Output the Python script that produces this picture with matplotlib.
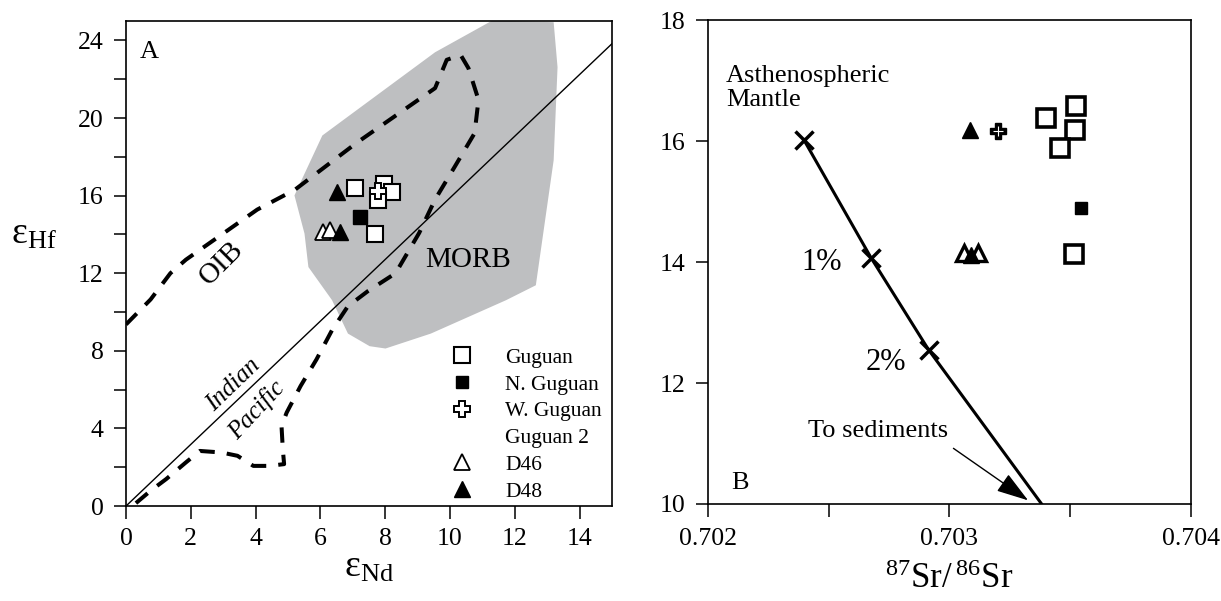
import matplotlib
matplotlib.use('Agg')
import matplotlib.pyplot as plt
from matplotlib.lines import Line2D

plt.rcParams['font.family'] = ['Liberation Serif', 'DejaVu Serif']
plt.rcParams['mathtext.fontset'] = 'custom'
plt.rcParams['mathtext.rm'] = 'Liberation Serif'
plt.rcParams['mathtext.it'] = 'Liberation Serif:italic'
plt.rcParams['mathtext.bf'] = 'Liberation Serif:bold'

# ---------------- Panel A data (eNd vs eHf) ----------------
guguan_nd = [7.07, 7.97, 8.20, 7.77, 7.69]
guguan_hf = [16.41, 16.62, 16.18, 15.76, 14.04]
nguguan_nd = [7.22]
nguguan_hf = [14.90]
wguguan_nd = [7.79]
wguguan_hf = [16.24]
d46_nd = [6.09, 6.30]
d46_hf = [14.12, 14.21]
d48_nd = [6.52, 6.60]
d48_hf = [16.18, 14.12]

morb_nd = [5.20, 5.51, 6.06, 9.54, 11.31, 13.20, 13.32, 13.20, 12.65, 11.73,
           9.41, 8.01, 7.52, 6.85, 6.36, 5.63, 5.51]
morb_hf = [16.01, 17.13, 19.10, 23.39, 25.03, 24.94, 22.62, 17.82, 11.38, 10.61,
           8.89, 8.12, 8.24, 8.89, 10.61, 12.32, 14.04]

oib_nd = [0.0, 0.76, 1.37, 1.85, 4.05, 5.21, 7.10, 9.54, 9.90, 10.33, 10.57,
          10.88, 10.76, 10.15, 9.54, 9.05, 8.32, 7.46, 6.85, 6.37, 5.88, 5.39,
          4.96, 4.80, 4.84, 4.88, 4.41, 3.93, 3.44, 2.95, 2.28, 1.85, 1.24,
          0.76, 0.27]
oib_hf = [9.36, 10.65, 12.00, 12.70, 15.28, 16.30, 18.70, 21.54, 23.00, 23.25,
          22.57, 20.94, 19.22, 17.50, 15.80, 14.08, 12.00, 11.07, 10.30, 9.10,
          7.56, 6.19, 4.82, 4.13, 2.93, 2.16, 2.07, 2.07, 2.59, 2.76, 2.84,
          2.25, 1.39, 0.79, 0.10]

divide_nd = [0.0, 15.0]
divide_hf = [0.0, 23.83]

# ---------------- Panel B data (87Sr/86Sr vs eHf) ----------------
guguan_sr = [0.703402, 0.703525, 0.703520, 0.703456, 0.703517]
guguan_hf_b = [16.38, 16.58, 16.18, 15.89, 14.14]
nguguan_sr = [0.703545]
nguguan_hf_b = [14.89]
wguguan_sr = [0.703203]
wguguan_hf_b = [16.16]
d46_sr = [0.703061, 0.703120]
d46_hf_b = [14.15, 14.15]
d48_sr = [0.703085, 0.703088]
d48_hf_b = [16.18, 14.12]

mix_sr = [0.702398, 0.702676, 0.702914, 0.703382]
mix_hf = [16.02, 14.07, 12.55, 10.00]
mix_labels = ['', '1%', '2%']

fig = plt.figure(figsize=(12.21, 6.01), dpi=100)
axA = fig.add_axes([0.1032, 0.158, 0.398, 0.807])
axB = fig.add_axes([0.5796, 0.1614, 0.3958, 0.8053])

TICK_FS = 18.5
TXT_FS = 19
for ax in (axA, axB):
    for s in ax.spines.values():
        s.set_linewidth(1.2)
    ax.tick_params(which='both', direction='out', length=9, width=1.1,
                   labelsize=TICK_FS)

# ---------------- Panel A ----------------
gray = '#bebfc1'
axA.fill(morb_nd, morb_hf, color=gray, lw=0, zorder=1)
axA.plot(oib_nd, oib_hf, color='black', lw=2.9, dashes=(3.8, 3.0),
         solid_capstyle='butt', dash_capstyle='butt', zorder=2)
axA.plot(divide_nd, divide_hf, color='black', lw=1.0, zorder=2)

axA.plot(d46_nd, d46_hf, ls='none', marker='^', ms=11, mfc='white', mec='black',
         mew=1.3, zorder=4)
axA.plot(d48_nd, d48_hf, ls='none', marker='^', ms=11, mfc='black', mec='black',
         mew=1.0, zorder=5)
axA.plot(guguan_nd, guguan_hf, ls='none', marker='s', ms=12, mfc='white',
         mec='black', mew=1.5, zorder=4)
axA.plot(nguguan_nd, nguguan_hf, ls='none', marker='s', ms=10, mfc='black',
         mec='black', mew=1.0, zorder=4)
axA.plot(wguguan_nd, wguguan_hf, ls='none', marker='P', ms=12, mfc='white',
         mec='black', mew=1.4, zorder=6)

axA.set_xlim(0, 15)
axA.set_ylim(0, 25)
axA.set_xticks(range(0, 15, 2))
axA.set_yticks([0, 4, 8, 12, 16, 20, 24])
axA.set_yticks([2, 6, 10, 14, 18, 22], minor=True)
axA.tick_params(axis='x', pad=7)
axA.tick_params(axis='y', which='both', pad=7)

axA.set_xlabel(r'$\mathrm{ε}_{\mathrm{Nd}}$', fontsize=27, labelpad=0)
axA.set_ylabel(r'$\mathrm{ε}_{\mathrm{Hf}}$', fontsize=27, rotation=0,
               va='center', ha='center')
axA.yaxis.set_label_coords(-0.19, 0.56)

axA.text(0.41, 23.4, 'A', fontsize=TXT_FS, va='center', ha='left')
axA.text(2.95, 12.5, 'OIB', fontsize=21, rotation=45, ha='center', va='center')
axA.text(10.57, 12.7, 'MORB', fontsize=21, ha='center', va='center')
axA.text(3.31, 6.23, 'Indian', fontsize=18, style='italic', rotation=44,
         ha='center', va='center')
axA.text(4.04, 4.94, 'Pacific', fontsize=18, style='italic', rotation=47,
         ha='center', va='center')

handles = [
    Line2D([], [], ls='none', marker='s', ms=12, mfc='white', mec='black', mew=1.5),
    Line2D([], [], ls='none', marker='s', ms=9, mfc='black', mec='black', mew=1.0),
    Line2D([], [], ls='none', marker='P', ms=12, mfc='white', mec='black', mew=1.4),
    Line2D([], [], ls='none', marker=None),
    Line2D([], [], ls='none', marker='^', ms=11, mfc='white', mec='black', mew=1.3),
    Line2D([], [], ls='none', marker='^', ms=11, mfc='black', mec='black', mew=1.0),
]
labels = ['Guguan', 'N. Guguan', 'W. Guguan', 'Guguan 2', 'D46', 'D48']
axA.legend(handles, labels, loc='upper left', bbox_to_anchor=(0.669, 0.326),
           frameon=False, fontsize=15.5, borderpad=0, borderaxespad=0,
           handlelength=1.0, handletextpad=1.52, labelspacing=0.31)

# ---------------- Panel B ----------------
axB.plot(mix_sr, mix_hf, color='black', lw=2.2, zorder=2)
axB.plot(mix_sr[:3], mix_hf[:3], ls='none', marker='x', ms=13, mew=2.5,
         color='black', zorder=3)
axB.text(mix_sr[1] - 0.000205, mix_hf[1] - 0.08, mix_labels[1], fontsize=22,
         ha='center', va='center')
axB.text(mix_sr[2] - 0.000175, mix_hf[2] - 0.21, mix_labels[2], fontsize=22,
         ha='center', va='center')

axB.plot(guguan_sr, guguan_hf_b, ls='none', marker='s', ms=13, mfc='white',
         mec='black', mew=2.6, zorder=4)
axB.plot(nguguan_sr, nguguan_hf_b, ls='none', marker='s', ms=9, mfc='black',
         mec='black', mew=1.0, zorder=4)
axB.plot(wguguan_sr, wguguan_hf_b, ls='none', marker='P', ms=11, mfc='black',
         mec='black', mew=1.0, zorder=4)
axB.plot(wguguan_sr, wguguan_hf_b, ls='none', marker='+', ms=7, mew=0.8,
         color='white', zorder=5)
axB.plot(d46_sr, d46_hf_b, ls='none', marker='^', ms=11, mfc='white',
         mec='black', mew=2.4, zorder=4)
axB.plot(d48_sr, d48_hf_b, ls='none', marker='^', ms=11, mfc='black',
         mec='black', mew=1.0, zorder=5)

axB.annotate('', xy=(0.703326, 10.06), xytext=(0.703017, 10.92),
             arrowprops=dict(arrowstyle='-|>,head_length=1.0,head_width=0.32',
                             lw=1.0, color='black', mutation_scale=20,
                             shrinkA=0, shrinkB=0))
axB.text(0.702414, 11.2, 'To sediments', fontsize=TXT_FS, ha='left', va='center')
axB.text(0.702076, 17.25, 'Asthenospheric\nMantle', fontsize=TXT_FS, ha='left',
         va='top', linespacing=1.12)
axB.text(0.702097, 10.35, 'B', fontsize=TXT_FS, ha='left', va='center')

axB.set_xlim(0.702, 0.704)
axB.set_ylim(10, 18)
axB.set_xticks([0.702, 0.703, 0.704])
axB.set_xticklabels(['0.702', '0.703', '0.704'])
axB.set_xticks([0.7025, 0.7035], minor=True)
axB.set_yticks([10, 12, 14, 16, 18])
axB.tick_params(axis='x', which='both', pad=8)
axB.tick_params(axis='y', pad=7)
axB.set_xlabel(r'$^{87}\mathrm{Sr}/\,^{86}\mathrm{Sr}$', fontsize=25, labelpad=10)

fig.savefig('out.png', dpi=100)
